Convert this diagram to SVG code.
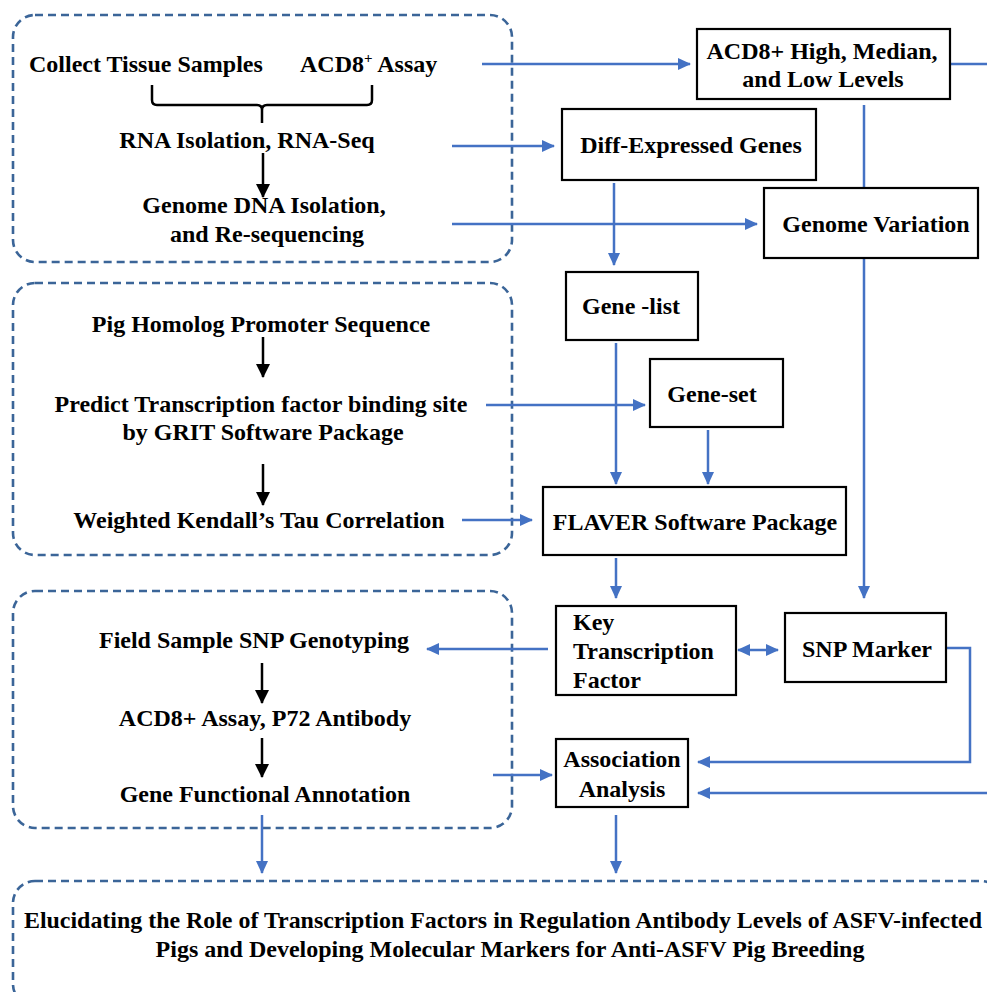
<svg xmlns="http://www.w3.org/2000/svg" width="987" height="992" viewBox="0 0 987 992">
<style>
  .t { font-family: "Liberation Serif", "Times New Roman", serif; font-weight: bold; font-size: 24px; fill: #000; }
  .m { text-anchor: middle; }
  .dash { fill: none; stroke: #3b6598; stroke-width: 2.6; stroke-dasharray: 8 5; }
  .box { fill: #fff; stroke: #000; stroke-width: 2.2; }
  .bl { fill: none; stroke: #4472c4; stroke-width: 2.5; }
  .bk { fill: none; stroke: #000; stroke-width: 2.5; }
</style>
<defs>
  <marker id="ab" markerUnits="userSpaceOnUse" markerWidth="14" markerHeight="12" refX="12" refY="6" orient="auto-start-reverse">
    <path d="M0,0 L13,6 L0,12 z" fill="#4472c4"/>
  </marker>
  <marker id="ak" markerUnits="userSpaceOnUse" markerWidth="14" markerHeight="14" refX="13" refY="7" orient="auto">
    <path d="M0,0 L14,7 L0,14 z" fill="#000"/>
  </marker>
</defs>
<rect width="987" height="992" fill="#fff"/>

<g id="group-sampling">
  <rect class="dash" x="13" y="15" width="499" height="247" rx="22"/>
  <text class="t" x="29" y="72">Collect Tissue Samples</text>
  <text class="t" x="300" y="72">ACD8<tspan font-size="15" dy="-9">+</tspan><tspan dy="9"> Assay</tspan></text>
  <path class="bk" d="M152,85 V100 Q152,105 157,105 H257 Q262,105 262,110 V123 M262,110 Q262,105 267,105 H367 Q372,105 372,100 V85"/>
  <text class="t m" x="247" y="148">RNA Isolation, RNA-Seq</text>
  <line class="bk" x1="263" y1="153" x2="263" y2="197" marker-end="url(#ak)"/>
  <text class="t m" x="264" y="213">Genome DNA Isolation,</text>
  <text class="t m" x="267" y="242">and Re-sequencing</text>
</g>

<g id="group-tfbs">
  <rect class="dash" x="13" y="283" width="499" height="272" rx="22"/>
  <text class="t m" x="261" y="332">Pig Homolog Promoter Sequence</text>
  <line class="bk" x1="263" y1="337" x2="263" y2="377" marker-end="url(#ak)"/>
  <text class="t m" x="261" y="412">Predict Transcription factor binding site</text>
  <text class="t m" x="263" y="440">by GRIT Software Package</text>
  <line class="bk" x1="263" y1="464" x2="263" y2="505" marker-end="url(#ak)"/>
  <text class="t m" x="259" y="528">Weighted Kendall’s Tau Correlation</text>
</g>

<g id="group-field">
  <rect class="dash" x="13" y="591" width="499" height="237" rx="22"/>
  <text class="t m" x="254" y="648">Field Sample SNP Genotyping</text>
  <line class="bk" x1="262" y1="663" x2="262" y2="703" marker-end="url(#ak)"/>
  <text class="t m" x="265" y="726">ACD8+ Assay, P72 Antibody</text>
  <line class="bk" x1="262" y1="738" x2="262" y2="777" marker-end="url(#ak)"/>
  <text class="t m" x="265" y="802">Gene Functional Annotation</text>
</g>

<g id="group-goal">
  <rect class="dash" x="13" y="881" width="990" height="125" rx="22"/>
  <text class="t" x="24" y="928" textLength="958" lengthAdjust="spacingAndGlyphs">Elucidating the Role of Transcription Factors in Regulation Antibody Levels of ASFV-infected</text>
  <text class="t m" x="510" y="957">Pigs and Developing Molecular Markers for Anti-ASFV Pig Breeding</text>
</g>

<g id="connectors">
  <line class="bl" x1="482" y1="64" x2="690" y2="64" marker-end="url(#ab)"/>
  <line class="bl" x1="950" y1="64" x2="987" y2="64"/>
  <line class="bl" x1="452" y1="146" x2="554" y2="146" marker-end="url(#ab)"/>
  <line class="bl" x1="452" y1="224" x2="757" y2="224" marker-end="url(#ab)"/>
  <line class="bl" x1="864" y1="105" x2="864" y2="188"/>
  <line class="bl" x1="864" y1="258" x2="864" y2="598" marker-end="url(#ab)"/>
  <line class="bl" x1="614" y1="183" x2="614" y2="265" marker-end="url(#ab)"/>
  <line class="bl" x1="616" y1="343" x2="616" y2="484" marker-end="url(#ab)"/>
  <line class="bl" x1="486" y1="405" x2="645" y2="405" marker-end="url(#ab)"/>
  <line class="bl" x1="708" y1="430" x2="708" y2="484" marker-end="url(#ab)"/>
  <line class="bl" x1="462" y1="520" x2="532" y2="520" marker-end="url(#ab)"/>
  <line class="bl" x1="616" y1="558" x2="616" y2="598" marker-end="url(#ab)"/>
  <line class="bl" x1="548" y1="649" x2="427" y2="649" marker-end="url(#ab)"/>
  <line class="bl" x1="738" y1="650" x2="778" y2="650" marker-start="url(#ab)" marker-end="url(#ab)"/>
  <path class="bl" d="M946,648 H970 V762 H698" marker-end="url(#ab)"/>
  <line class="bl" x1="987" y1="793" x2="698" y2="793" marker-end="url(#ab)"/>
  <line class="bl" x1="493" y1="775" x2="552" y2="775" marker-end="url(#ab)"/>
  <line class="bl" x1="262" y1="815" x2="262" y2="873" marker-end="url(#ab)"/>
  <line class="bl" x1="616" y1="815" x2="616" y2="873" marker-end="url(#ab)"/>
</g>

<g id="node-levels">
  <rect class="box" x="697" y="29" width="253" height="70"/>
  <text class="t m" x="822" y="59">ACD8+ High, Median,</text>
  <text class="t m" x="823" y="87">and Low Levels</text>
</g>
<g id="node-deg">
  <rect class="box" x="562" y="109" width="254" height="71"/>
  <text class="t m" x="691" y="153">Diff-Expressed Genes</text>
</g>
<g id="node-variation">
  <rect class="box" x="764" y="188" width="214" height="70"/>
  <text class="t m" x="876" y="232">Genome Variation</text>
</g>
<g id="node-genelist">
  <rect class="box" x="566" y="272" width="132" height="68"/>
  <text class="t m" x="631" y="314">Gene -list</text>
</g>
<g id="node-geneset">
  <rect class="box" x="650" y="359" width="133" height="68"/>
  <text class="t m" x="712" y="402">Gene-set</text>
</g>
<g id="node-flaver">
  <rect class="box" x="543" y="487" width="303" height="68"/>
  <text class="t m" x="695" y="530">FLAVER Software Package</text>
</g>
<g id="node-ktf">
  <rect class="box" x="556" y="606" width="180" height="89"/>
  <text class="t" x="573" y="630">Key</text>
  <text class="t" x="573" y="659">Transcription</text>
  <text class="t" x="573" y="688">Factor</text>
</g>
<g id="node-snp">
  <rect class="box" x="785" y="613" width="161" height="69"/>
  <text class="t m" x="867" y="657">SNP Marker</text>
</g>
<g id="node-assoc">
  <rect class="box" x="556" y="739" width="132" height="68"/>
  <text class="t m" x="622" y="767">Association</text>
  <text class="t m" x="622" y="797">Analysis</text>
</g>
</svg>
